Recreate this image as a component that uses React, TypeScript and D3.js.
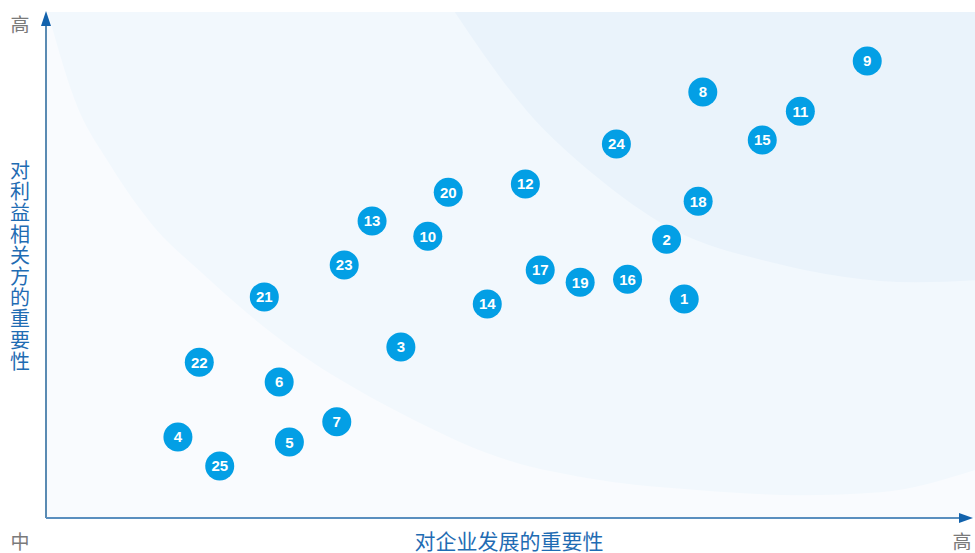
import React, { useEffect, useRef } from 'react';
import * as d3 from 'd3';

// topic numbers and their positions (0-100 on both axes)
const topicIds = [1, 2, 3, 4, 5, 6, 7, 8, 9, 10, 11, 12, 13, 14, 15, 16, 17, 18, 19, 20, 21, 22, 23, 24, 25];
const businessImportance = [68.7, 66.8, 38.2, 14.2, 26.2, 25.1, 31.3, 70.7, 88.4, 41.1, 81.2, 51.6, 35.1, 47.5, 77.1, 62.6, 53.2, 70.2, 57.5, 43.3, 23.5, 16.5, 32.1, 61.4, 18.7];
const stakeholderImportance = [43.3, 55.1, 33.8, 16.0, 15.0, 26.9, 19.0, 84.2, 90.3, 55.7, 80.4, 66.0, 58.7, 42.3, 74.7, 47.2, 49.0, 62.6, 46.6, 64.4, 43.7, 30.8, 50.0, 73.9, 10.3];

// background zone outlines, same 0-100 units
const midZoneX = [0.2, 3.1, 6.9, 11.2, 17.3, 20.9, 26.3, 31.7, 38.1, 48.9, 59.6, 70.4, 81.2, 89.8, 100];
const midZoneY = [100, 82.6, 69.8, 58.5, 47.6, 41.7, 33.8, 27.3, 20.8, 11.9, 7.5, 5.5, 4.5, 5.1, 9.5];
const topZoneX = [44.0, 51.7, 59.3, 67.0, 78.4, 93.6, 100];
const topZoneY = [100, 80.6, 67.4, 57.5, 50.4, 46.6, 47.0];

const yTitle = '对利益相关方的重要性';
const xTitle = '对企业发展的重要性';

const W = 975;
const H = 553;

const MaterialityMatrix: React.FC = () => {
  const svgRef = useRef<SVGSVGElement | null>(null);

  useEffect(() => {
    if (!svgRef.current) return;
    const svg = d3.select(svgRef.current);
    svg.selectAll('*').remove();

    const left = 46, right = 975, top = 12, bottom = 518;
    const x = d3.scaleLinear().domain([0, 100]).range([left, right]);
    const y = d3.scaleLinear().domain([0, 100]).range([bottom, top]);

    const cjk = '"Noto Sans CJK SC", "Noto Sans", sans-serif';

    // background zones
    svg.append('rect')
      .attr('x', left).attr('y', top)
      .attr('width', right - left).attr('height', bottom - top)
      .attr('fill', '#f9fbfe');

    const zone = (xs: number[], ys: number[]) => {
      const pts: [number, number][] = xs.map((v, i) => [x(v), y(ys[i])]);
      const d = d3.line().curve(d3.curveMonotoneX)(pts)!;
      return `${d}L${x(100)},${y(100)}Z`;
    };

    svg.append('path').attr('d', zone(midZoneX, midZoneY)).attr('fill', '#f2f8fd');
    svg.append('path').attr('d', zone(topZoneX, topZoneY)).attr('fill', '#eaf3fb');

    // axes with arrows
    svg.append('line')
      .attr('x1', left).attr('y1', bottom).attr('x2', left).attr('y2', top + 10)
      .attr('stroke', '#5a8bb3').attr('stroke-width', 2);
    svg.append('line')
      .attr('x1', left).attr('y1', bottom).attr('x2', right - 12).attr('y2', bottom)
      .attr('stroke', '#5a8fbf').attr('stroke-width', 2);
    svg.append('path')
      .attr('d', `M${left},${top - 1} L${left - 5},${top + 14} L${left + 5},${top + 14} Z`)
      .attr('fill', '#1262ac');
    svg.append('path')
      .attr('d', `M${right - 2},${bottom} L${right - 16},${bottom - 5} L${right - 16},${bottom + 5} Z`)
      .attr('fill', '#1262ac');

    // corner labels
    const corner = (tx: number, ty: number, t: string) =>
      svg.append('text')
        .attr('x', tx).attr('y', ty)
        .attr('text-anchor', 'middle')
        .style('font-family', cjk)
        .style('font-size', '19px')
        .style('fill', '#7a7a7a')
        .text(t);
    corner(20, 32, '高');
    corner(20, 549, '中');
    corner(962, 549, '高');

    // axis titles
    svg.append('text')
      .attr('x', 509).attr('y', 549)
      .attr('text-anchor', 'middle')
      .style('font-family', cjk)
      .style('font-size', '21px')
      .style('fill', '#1f6cb3')
      .text(xTitle);

    // vertical title, one character per line
    svg.append('g')
      .selectAll('text')
      .data(yTitle.split(''))
      .enter().append('text')
      .attr('x', 20)
      .attr('y', (_d, i) => 178 + i * 21.2)
      .attr('text-anchor', 'middle')
      .style('font-family', cjk)
      .style('font-size', '20px')
      .style('fill', '#1f6cb3')
      .text(d => d);

    // bubbles
    const nodes = svg.append('g')
      .selectAll('g.topic')
      .data(topicIds)
      .enter().append('g')
      .attr('class', 'topic')
      .attr('transform', (_d, i) => `translate(${x(businessImportance[i])},${y(stakeholderImportance[i])})`);

    nodes.append('circle')
      .attr('r', 14.5)
      .attr('fill', '#039fe5');

    nodes.append('text')
      .attr('text-anchor', 'middle')
      .attr('dy', '0.36em')
      .style('font-family', '"Liberation Sans", Arial, sans-serif')
      .style('font-weight', 'bold')
      .style('font-size', '15px')
      .style('fill', '#ffffff')
      .text(d => d);
  }, []);

  return (
    <svg
      ref={svgRef}
      width={W}
      height={H}
      style={{ position: 'absolute', left: 0, top: 0, background: '#ffffff' }}
    />
  );
};

export default function App() {
  return <MaterialityMatrix />;
}
